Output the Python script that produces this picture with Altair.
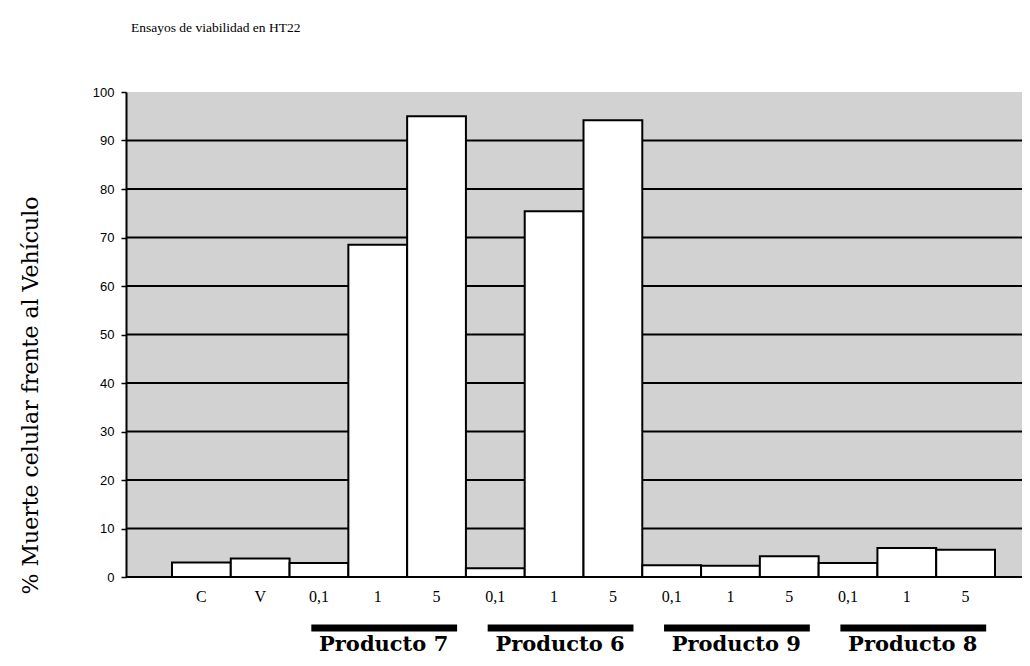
import altair as alt
import pandas as pd

# ---- data ----
doses = ["C", "V", "0,1", "1", "5", "0,1", "1", "5", "0,1", "1", "5", "0,1", "1", "5"]
values = [3.0, 3.8, 2.9, 68.5, 95.0, 1.8, 75.4, 94.2, 2.4, 2.3, 4.3, 2.9, 6.0, 5.6]
products = ["Producto 7", "Producto 6", "Producto 9", "Producto 8"]
product_first = [2, 5, 8, 11]   # index of the first bar of each product
product_mid = [3, 6, 9, 12]
product_last = [4, 7, 10, 13]
chart_title = "Ensayos de viabilidad en HT22"
y_title = "% Muerte celular frente al Vehículo"
y_ticks = [0, 10, 20, 30, 40, 50, 60, 70, 80, 90, 100]
grid_values = [0, 10, 20, 30, 40, 50, 60, 70, 80, 90]

ids = [f"{i}:{d}" for i, d in enumerate(doses)]
bars_df = pd.DataFrame({"id": ids, "value": values})
groups_df = pd.DataFrame({
    "name": products,
    "start": [ids[i] for i in product_first],
    "mid": [ids[i] for i in product_mid],
    "end": [ids[i] for i in product_last],
})
grid_df = pd.DataFrame({"value": grid_values})
title_df = pd.DataFrame({"t": [chart_title]})

W, H = 896, 485
xscale = alt.Scale(domain=ids, range=[46, 869], paddingInner=0, paddingOuter=0)
yscale = alt.Scale(domain=[0, 100], nice=False)
xaxis = alt.Axis(title=None, labelExpr="split(datum.value, ':')[1]",
                 labelAngle=0, labelFont="Liberation Serif", labelFontSize=16,
                 labelColor="black", labelPadding=11, ticks=False, domain=False,
                 grid=False)
yaxis = alt.Axis(values=y_ticks, title=y_title,
                 titleFont="DejaVu Serif", titleFontSize=22, titleFontWeight="normal",
                 titleColor="black", titleX=-96, titleY=303, titleAngle=-90,
                 titleAlign="center", titleBaseline="middle",
                 labelFont="Liberation Sans", labelFontSize=13, labelColor="black",
                 labelPadding=7, tickSize=5, tickColor="black", tickWidth=1.5,
                 domainColor="black", domainWidth=2, grid=False)

gridlines = alt.Chart(grid_df).mark_rule(color="black", strokeWidth=2).encode(
    y=alt.Y("value:Q", scale=yscale, axis=yaxis),
    x=alt.value(0),
    x2=alt.value(W),
)

bars = alt.Chart(bars_df).mark_bar(fill="white", stroke="black", strokeWidth=2).encode(
    x=alt.X("id:N", scale=xscale, sort=None, axis=xaxis),
    y=alt.Y("value:Q", scale=yscale, axis=yaxis),
)

rules = alt.Chart(groups_df).mark_rule(color="black", strokeWidth=7, strokeCap="butt").encode(
    x=alt.X("start:N", scale=xscale, sort=None, bandPosition=0.37, axis=xaxis),
    x2=alt.X2("end", bandPosition=0.85),
    y=alt.value(536),
)

glabels = alt.Chart(groups_df).mark_text(
    font="DejaVu Serif", fontSize=21, fontWeight="bold", color="black",
    align="center", baseline="alphabetic",
).encode(
    x=alt.X("mid:N", scale=xscale, sort=None, bandPosition=0.6, axis=xaxis),
    y=alt.value(559),
    text="name:N",
)

title = alt.Chart(title_df).mark_text(
    font="Liberation Serif", fontSize=13.5, color="black", align="left", baseline="middle",
).encode(x=alt.value(5), y=alt.value(-64), text="t:N")

chart = alt.layer(gridlines, bars, rules, glabels, title).properties(
    width=W, height=H,
    autosize=alt.AutoSizeParams(type="none"),
    padding={"left": 118, "top": 84, "right": 0, "bottom": 81},
    background="white",
).configure_view(fill="#d2d2d2", strokeWidth=0)

chart.save("out.html", embed_options={"renderer": "svg", "actions": False})
